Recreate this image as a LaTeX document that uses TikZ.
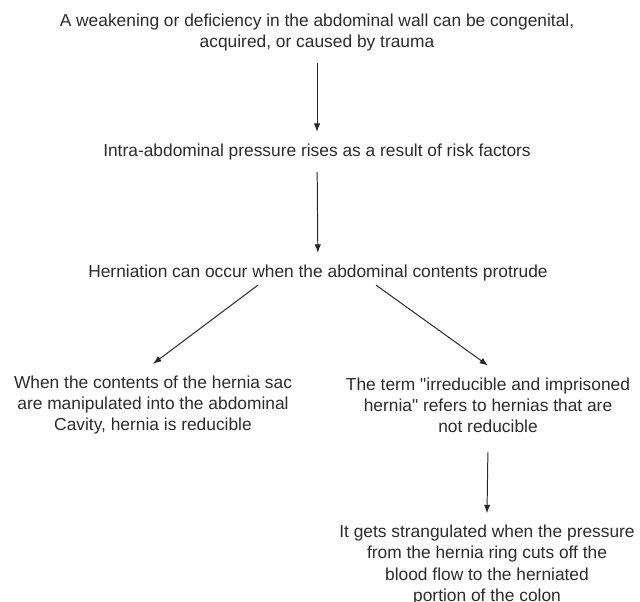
\documentclass[tikz,border=0pt]{standalone}
\usepackage{fontspec}
\setmainfont{Liberation Sans}
\usetikzlibrary{arrows.meta}

\definecolor{textGrey}{HTML}{2B2B2B}

\tikzset{
	flowText/.style={align=center, inner sep=0pt, outer sep=0.3cm, text=textGrey, font=\fontsize{12.35}{15}\selectfont},
	flowArrow/.style={draw=black!85, line width=0.7pt, -{Latex[length=6pt, width=4.5pt]}}
}

\begin{document}
\begin{tikzpicture}
		
		% Frame of the picture
		\useasboundingbox (0,0) rectangle (16,-15.05);
		
		% Main chain
		\node (textWeakness) at (7.925,-0.8125) [flowText]{A weakening or deficiency in the abdominal wall can be congenital,\\acquired, or caused by trauma};
		\node (textPressure) at (7.925,-3.8) [flowText]{Intra-abdominal pressure rises as a result of risk factors};
		\node (textHerniation) at (7.95,-6.825) [flowText]{Herniation can occur when the abdominal contents protrude};
		
		% Linking the main chain
		\draw[flowArrow] (textWeakness) -- (textPressure);
		\draw[flowArrow] (textPressure) -- (textHerniation);
		
		% Two outcomes
		\node (textReducible) at (3.825,-10.125) [flowText]{When the contents of the hernia sac\\are manipulated into the abdominal\\Cavity, hernia is reducible};
		\node (textIrreducible) at (12.2,-10.125) [flowText]{The term \textquotedbl irreducible and imprisoned\\hernia\textquotedbl{} refers to hernias that are\\not reducible};
		
		\draw[flowArrow] ([xshift=-1.5cm, yshift=0.2cm]textHerniation.south) -- (textReducible.north);
		\draw[flowArrow] ([xshift=1.45cm, yshift=0.2cm]textHerniation.south) -- (textIrreducible.north);
		
		% Strangulation
		\node (textStrangulated) at (12.175,-14.125) [flowText]{It gets strangulated when the pressure\\from the hernia ring cuts off the\\blood flow to the herniated\\portion of the colon};
		\draw[flowArrow, shorten <=0.2cm] (textIrreducible.south) -- (textStrangulated.north);
		
		\end{tikzpicture}
\end{document}
